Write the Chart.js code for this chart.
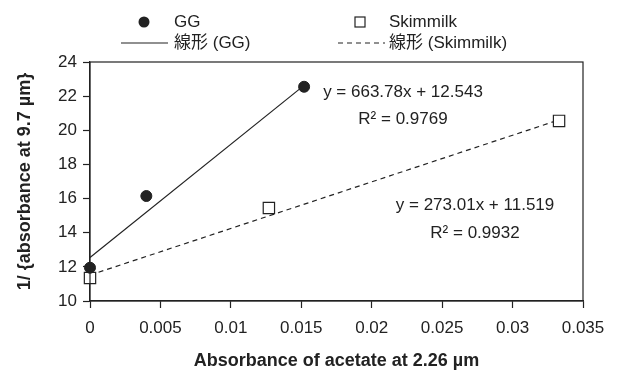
<!DOCTYPE html>
<html>
<head>
<meta charset="utf-8">
<script src="https://cdn.jsdelivr.net/npm/chart.js@4.4.1/dist/chart.umd.min.js"></script>
<style>
  body { margin: 0; background: #fff; }
  #wrap { width: 617px; height: 374px; }
</style>
</head>
<body>
<div id="wrap"><canvas id="chart" width="617" height="374"></canvas></div>
<script>
// --- DATA ---
const ggX = [0, 0.004, 0.0152];
const ggY = [11.95, 16.15, 22.55];
const skimX = [0, 0.0127, 0.0333];
const skimY = [11.35, 15.45, 20.55];

// linear trendlines as printed on the chart
const ggFit = { slope: 663.78, intercept: 12.543, r2: '0.9769' };
const skimFit = { slope: 273.01, intercept: 11.519, r2: '0.9932' };

const xTickLabels = ['0', '0.005', '0.01', '0.015', '0.02', '0.025', '0.03', '0.035'];
const yTickLabels = ['10', '12', '14', '16', '18', '20', '22', '24'];

const FONT = "'Liberation Sans', Arial, 'Noto Sans CJK JP', sans-serif";
const INK = '#222';

function fitLine(fit, xs) {
  const x0 = xs[0], x1 = xs[xs.length - 1];
  return [
    { x: x0, y: fit.slope * x0 + fit.intercept },
    { x: x1, y: fit.slope * x1 + fit.intercept }
  ];
}

// box round the plot area
const frame = {
  id: 'frame',
  afterDraw(chart) {
    const { ctx, chartArea: a } = chart;
    ctx.save();
    ctx.strokeStyle = INK;
    ctx.lineWidth = 1.2;
    ctx.strokeRect(a.left, a.top, a.right - a.left, a.bottom - a.top);
    ctx.restore();
  }
};

// legend (two columns, two rows) + equations
const extras = {
  id: 'extras',
  afterDraw(chart) {
    const ctx = chart.ctx;
    ctx.save();
    ctx.fillStyle = INK;
    ctx.strokeStyle = INK;
    ctx.font = '17px ' + FONT;
    ctx.textBaseline = 'middle';
    ctx.textAlign = 'left';

    // row 1
    ctx.beginPath();
    ctx.arc(144, 22, 5.5, 0, Math.PI * 2);
    ctx.fill();
    ctx.fillText('GG', 174, 22);
    ctx.lineWidth = 1.2;
    ctx.fillStyle = '#fff';
    ctx.fillRect(355, 17, 10, 10);
    ctx.strokeRect(355, 17, 10, 10);
    ctx.fillStyle = INK;
    ctx.fillText('Skimmilk', 389, 22);

    // row 2
    ctx.beginPath();
    ctx.moveTo(121, 43); ctx.lineTo(168, 43);
    ctx.stroke();
    ctx.fillText('線形 (GG)', 174, 43);
    ctx.setLineDash([5, 4]);
    ctx.beginPath();
    ctx.moveTo(338, 43); ctx.lineTo(385, 43);
    ctx.stroke();
    ctx.setLineDash([]);
    ctx.fillText('線形 (Skimmilk)', 389, 43);

    // equations
    ctx.textAlign = 'center';
    ctx.fillText('y = ' + ggFit.slope + 'x + ' + ggFit.intercept, 403, 92);
    ctx.fillText('R² = ' + ggFit.r2, 403, 119);
    ctx.fillText('y = ' + skimFit.slope + 'x + ' + skimFit.intercept, 475, 205);
    ctx.fillText('R² = ' + skimFit.r2, 475, 233);
    ctx.restore();
  }
};

new Chart(document.getElementById('chart'), {
  type: 'scatter',
  data: {
    datasets: [
      {
        label: '線形 (GG)',
        data: fitLine(ggFit, ggX),
        showLine: true,
        borderColor: INK,
        borderWidth: 1.2,
        pointRadius: 0,
        clip: false,
        order: 3
      },
      {
        label: '線形 (Skimmilk)',
        data: fitLine(skimFit, skimX),
        showLine: true,
        borderColor: INK,
        borderWidth: 1.2,
        borderDash: [5, 4],
        pointRadius: 0,
        clip: false,
        order: 4
      },
      {
        label: 'GG',
        data: ggX.map((x, i) => ({ x, y: ggY[i] })),
        pointStyle: 'circle',
        pointRadius: 5.5,
        backgroundColor: INK,
        borderColor: INK,
        borderWidth: 1,
        clip: false,
        order: 1
      },
      {
        label: 'Skimmilk',
        data: skimX.map((x, i) => ({ x, y: skimY[i] })),
        pointStyle: 'rect',
        pointRadius: 8,
        backgroundColor: '#fff',
        borderColor: INK,
        borderWidth: 1.2,
        clip: false,
        order: 2
      }
    ]
  },
  options: {
    responsive: false,
    animation: false,
    layout: { padding: { top: 62, right: 34, left: 0, bottom: 0 } },
    plugins: { legend: { display: false }, tooltip: { enabled: false } },
    scales: {
      x: {
        type: 'linear',
        min: 0,
        max: 0.035,
        afterBuildTicks: s => { s.ticks = xTickLabels.map(v => ({ value: Number(v) })); },
        afterFit: s => { s.height = 73; },
        grid: { drawOnChartArea: false, tickLength: 7, color: INK, tickWidth: 1.2 },
        border: { color: INK, width: 1.2 },
        ticks: {
          padding: 10,
          color: INK,
          font: { family: FONT, size: 17 },
          maxRotation: 0,
          callback: (v, i) => xTickLabels[i]
        },
        title: {
          display: true,
          text: 'Absorbance of acetate at 2.26 µm',
          color: INK,
          font: { family: FONT, size: 18, weight: 'bold', lineHeight: 1.2 },
          padding: { top: 0, bottom: 2 }
        }
      },
      y: {
        min: 10,
        max: 24,
        afterBuildTicks: s => { s.ticks = yTickLabels.map(v => ({ value: Number(v) })); },
        afterFit: s => { s.width = 90; },
        grid: { drawOnChartArea: false, tickLength: 7, color: INK, tickWidth: 1.2 },
        border: { color: INK, width: 1.2 },
        ticks: {
          padding: 6,
          color: INK,
          font: { family: FONT, size: 17 },
          callback: (v, i) => yTickLabels[i]
        },
        title: {
          display: true,
          text: '1/ {absorbance at 9.7 µm}',
          color: INK,
          font: { family: FONT, size: 18, weight: 'bold', lineHeight: 1.2 },
          padding: { top: 14, bottom: 0 }
        }
      }
    }
  },
  plugins: [frame, extras]
});
</script>
</body>
</html>
